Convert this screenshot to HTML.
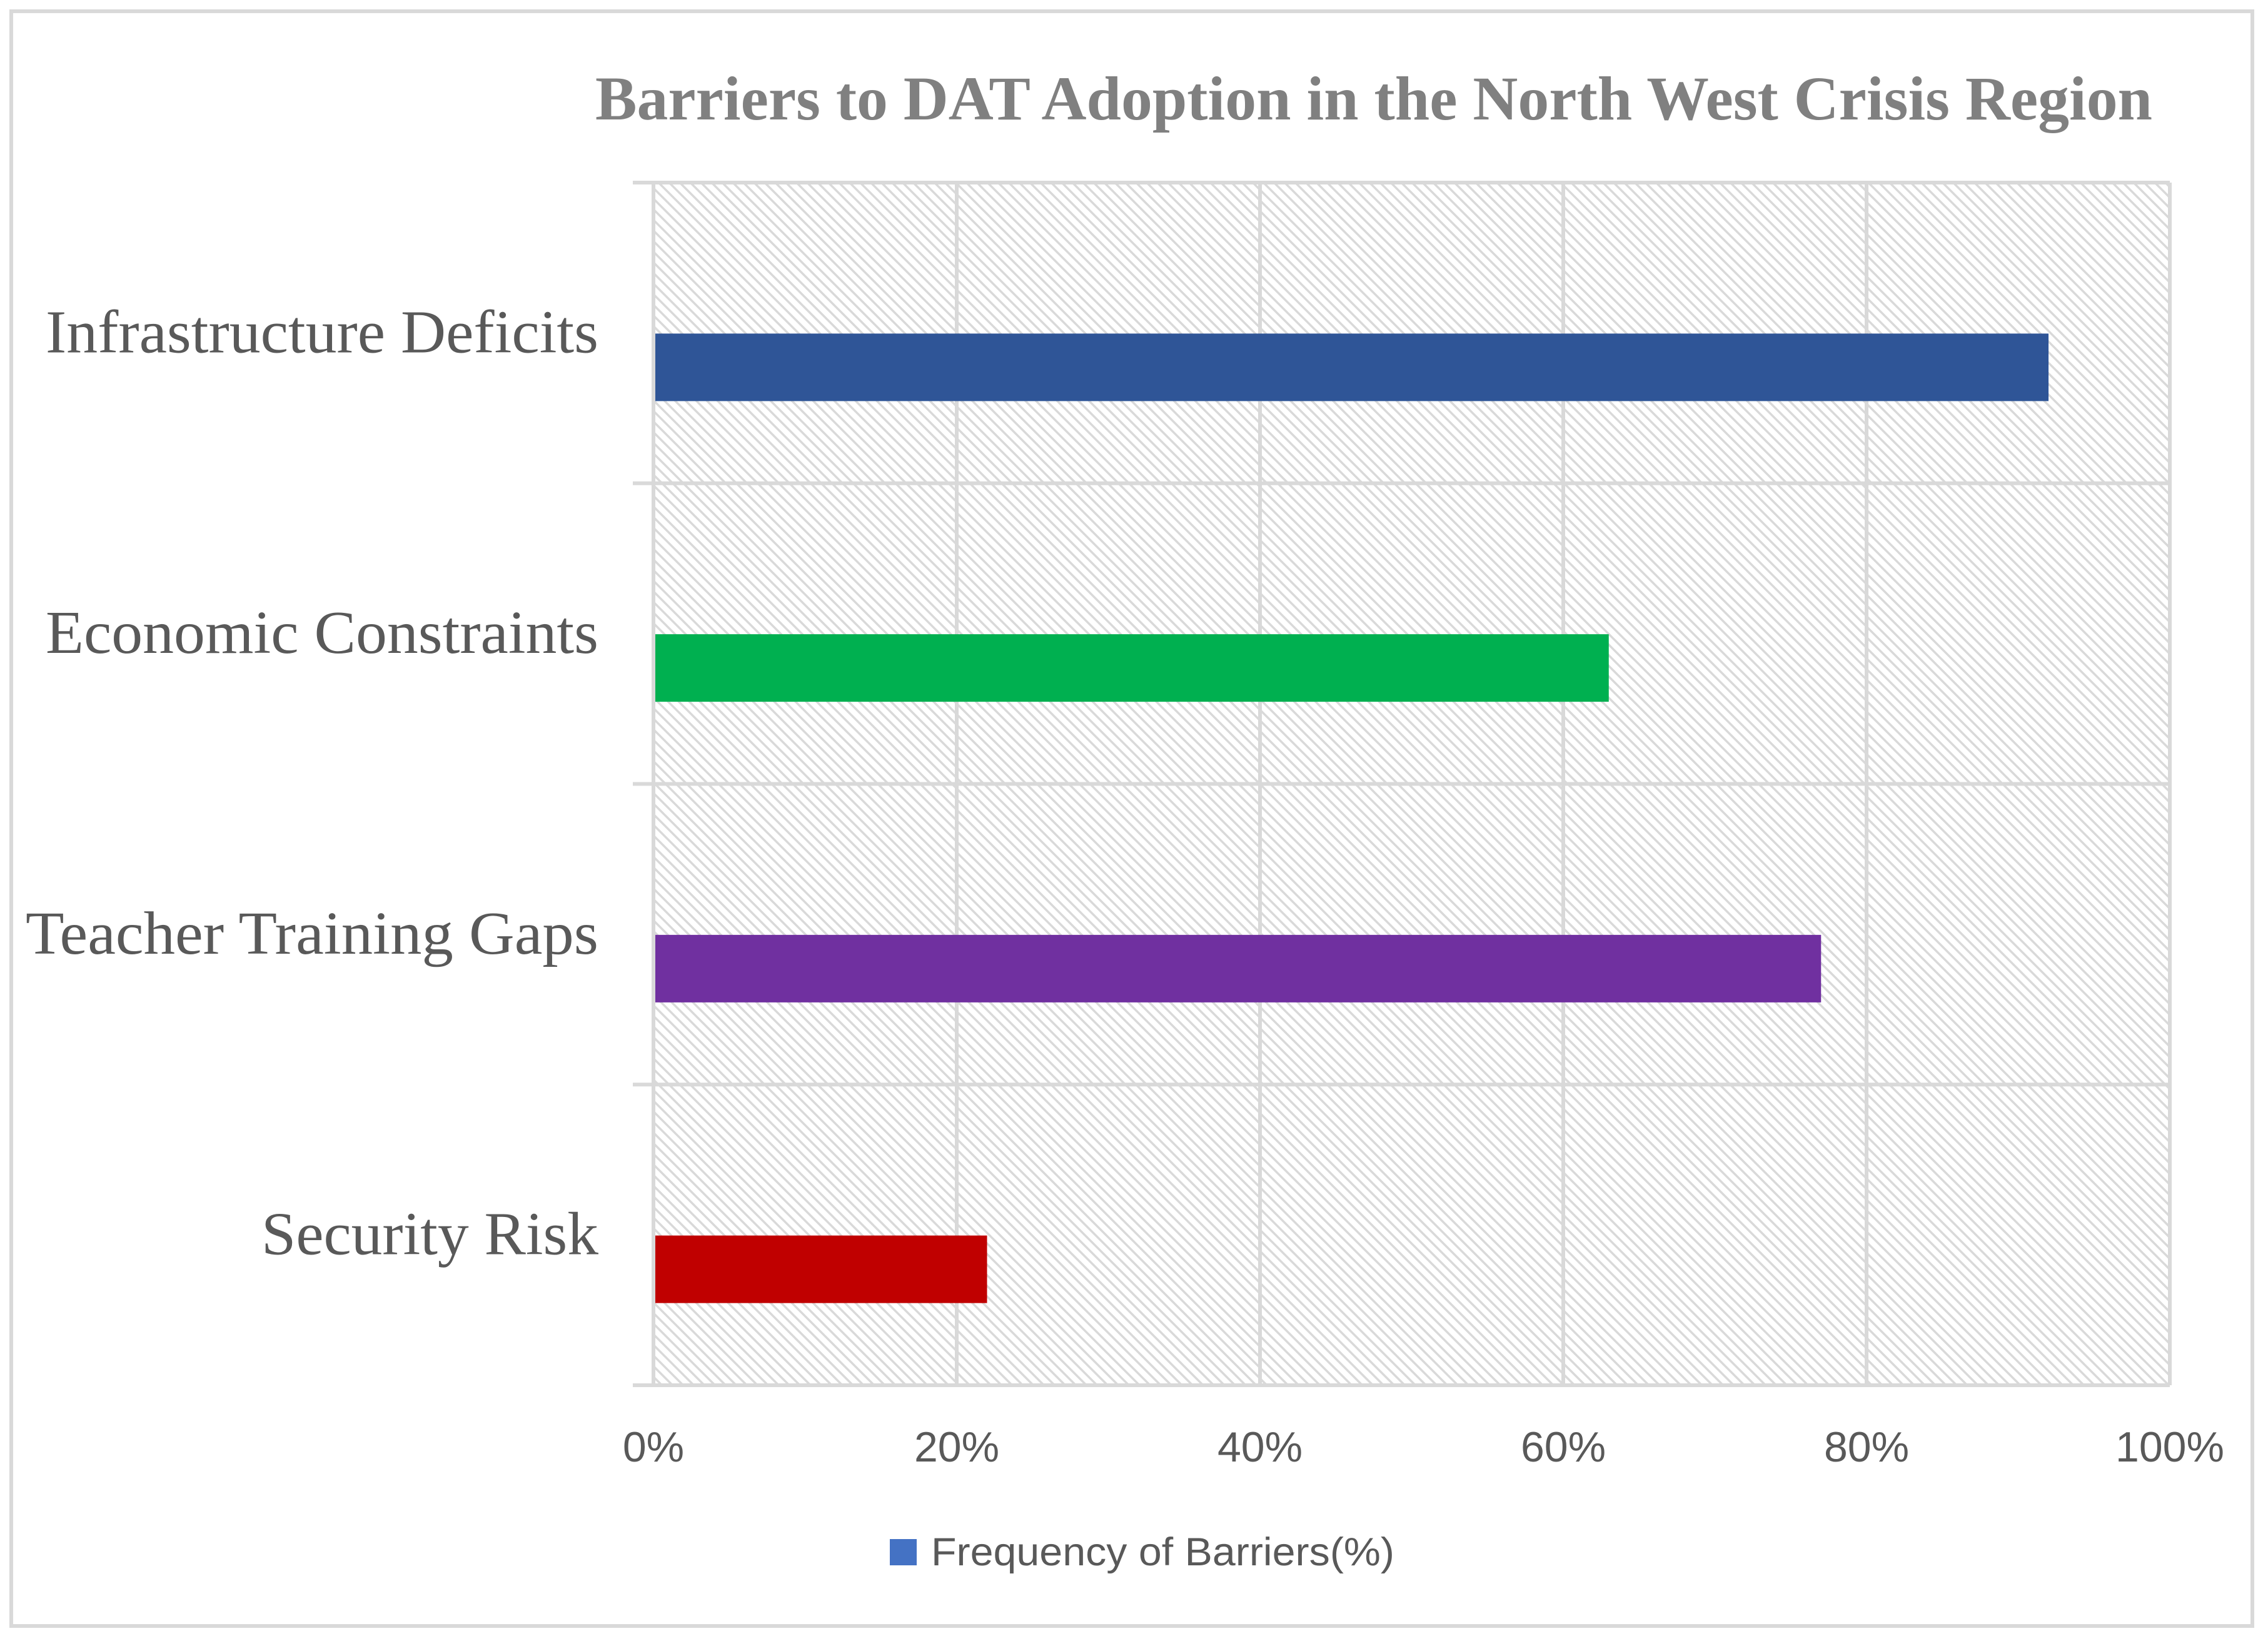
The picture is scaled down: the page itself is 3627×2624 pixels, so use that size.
<!DOCTYPE html>
<html><head><meta charset="utf-8"><style>
html,body{margin:0;padding:0;background:#fff;}
svg{display:block;}
</style></head><body>
<svg id="chart" width="3627" height="2624" viewBox="0 0 3627 2624" xmlns="http://www.w3.org/2000/svg">
<defs>
<pattern id="hatch" patternUnits="userSpaceOnUse" width="12" height="12" patternTransform="rotate(45)">
<rect width="12" height="12" fill="#ffffff"/>
<rect x="0" y="0" width="12" height="3.5" fill="#d9d9d9"/>
</pattern>
</defs>
<rect x="18" y="18" width="3584" height="2582" fill="#fff" stroke="#d9d9d9" stroke-width="6"/>
<text x="2197" y="191" text-anchor="middle" font-family="'Liberation Serif', serif" font-weight="bold" font-size="100" fill="#808080" textLength="2490" lengthAdjust="spacingAndGlyphs">Barriers to DAT Adoption in the North West Crisis Region</text>
<rect x="1045" y="292" width="2425" height="1923" fill="url(#hatch)"/>
<g id="grid"></g>
<g id="bars"></g>
<g id="labels"></g>
<rect x="1423" y="2461" width="43" height="42" fill="#4472c4"/>
<text x="1489" y="2503" font-family="'Liberation Sans', sans-serif" font-size="63" fill="#595959" textLength="741" lengthAdjust="spacingAndGlyphs">Frequency of Barriers(%)</text>
</svg>
<script>
const categories = ["Infrastructure Deficits", "Economic Constraints", "Teacher Training Gaps", "Security Risk"];
const values = [0.92, 0.63, 0.77, 0.22];
const barColors = ["#2f5597", "#00b050", "#7030a0", "#c00000"];
const tickValues = [0, 0.2, 0.4, 0.6, 0.8, 1.0];
const tickLabels = ["0%", "20%", "40%", "60%", "80%", "100%"];

const NS = "http://www.w3.org/2000/svg";
const X0 = 1045, X1 = 3470, Y0 = 292, Y1 = 2215;
const bandH = (Y1 - Y0) / categories.length;
function xScale(v){ return X0 + v * (X1 - X0); }
function bandTop(i){ return Y0 + i * bandH; }
function mk(tag, attrs, parent){
  const e = document.createElementNS(NS, tag);
  for (const k in attrs) e.setAttribute(k, attrs[k]);
  parent.appendChild(e);
  return e;
}
const grid = document.getElementById("grid");
const bars = document.getElementById("bars");
const labels = document.getElementById("labels");

tickValues.forEach((t, i) => {
  const x = xScale(t);
  const l = mk("line", {x1:x, x2:x, y1:Y0, y2:Y1, stroke:"#d9d9d9", "stroke-width":6}, grid);
  
  
  const tx = mk("text", {x:x, y:2337, "text-anchor":"middle", "font-family":"'Liberation Sans', sans-serif", "font-size":68, fill:"#595959"}, labels);
  tx.textContent = tickLabels[i];
  
  
});
for (let i = 0; i <= categories.length; i++) {
  const y = bandTop(i);
  const l = mk("line", {x1:1012, x2:X1, y1:y, y2:y, stroke:"#d9d9d9", "stroke-width":6}, grid);
  
  
}
const labelWidths = [884, 884, 916, 539];
categories.forEach((c, i) => {
  const top = bandTop(i);
  const barH = 108;
  const yc = top + bandH / 2 + 55;
  const r = mk("rect", {x:X0 + 3, y:yc - barH/2, width:xScale(values[i]) - X0 - 3, height:barH, fill:barColors[i]}, bars);
  
  
  const t = mk("text", {x:957, y:top + bandH/2 + 31, "text-anchor":"end", "font-family":"'Liberation Serif', serif", "font-size":98, fill:"#595959", textLength:labelWidths[i], lengthAdjust:"spacingAndGlyphs"}, labels);
  t.textContent = c;
  
  
});
</script>
</body></html>
